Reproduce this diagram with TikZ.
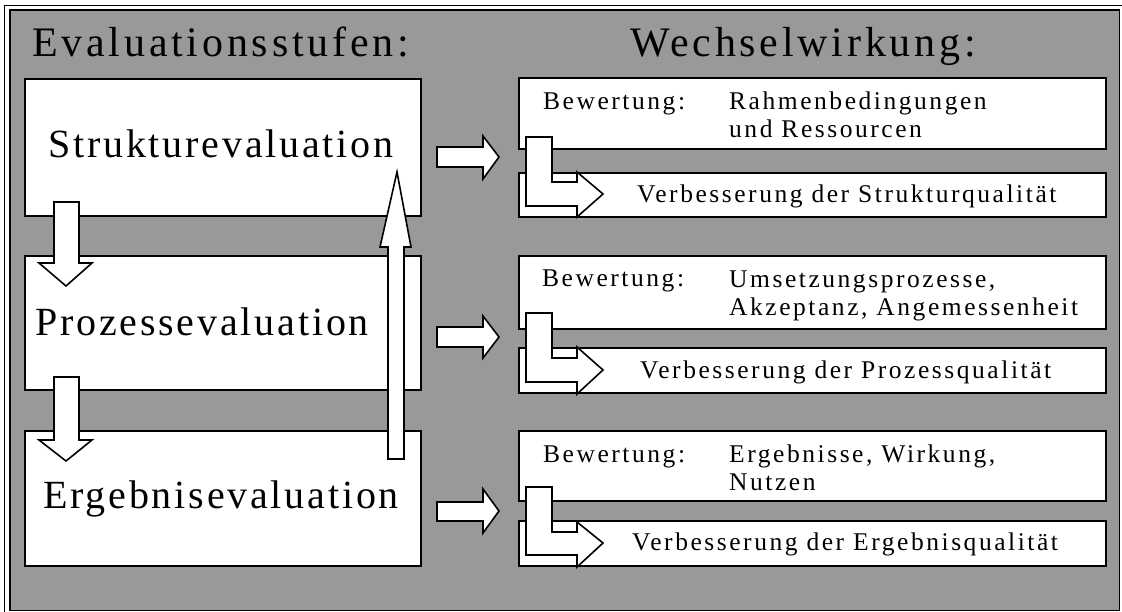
\documentclass[tikz,border=0pt]{standalone}
\usepackage{fontspec}
\setmainfont{Liberation Serif}
\newfontfamily\widefont[LetterSpace=9]{Liberation Serif}
\newfontfamily\boxfont[LetterSpace=10]{Liberation Serif}
\newfontfamily\midfont[LetterSpace=7]{Liberation Serif}
\definecolor{panel}{RGB}{153,153,153}
\begin{document}
\begin{tikzpicture}[x=1pt,y=-1pt,
  stage/.style={draw=black,line width=2pt,fill=white,anchor=north west,inner sep=0pt},
  rbox/.style={draw=black,line width=2pt,fill=white,anchor=north west,inner sep=0pt},
  blockarrow/.style={draw=black,fill=white,line width=1.6pt,line join=miter},
  title/.style={anchor=base west,inner sep=0pt,font=\widefont\fontsize{42}{50}\selectfont},
  stagetext/.style={anchor=base west,inner sep=0pt,font=\midfont\fontsize{40}{46}\selectfont},
  small/.style={anchor=base west,inner sep=0pt,align=left,font=\boxfont\fontsize{25.5}{28}\selectfont}]
\useasboundingbox (0,0) rectangle (1122,612);
% frame
\draw[line width=1pt] (4.5,5.5) rectangle (1135,625);
\draw[line width=1.5pt,fill=panel] (10,10) rectangle (1119.5,610.5);

% headings
\node[title] (h1) at (32,57) {Evaluationsstufen:};
\node[title] (h2) at (630,57) {Wechselwirkung:};

% evaluation stages
\node[stage,minimum width=396pt,minimum height=137pt] (s1) at (24,78) {};
\node[stage,minimum width=396pt,minimum height=134pt] (s2) at (24,255) {};
\node[stage,minimum width=396pt,minimum height=135pt] (s3) at (24,430) {};
\node[stagetext] (t1) at (48,158) {Strukturevaluation};
\node[stagetext] (t2) at (35,335) {Prozessevaluation};
\node[stagetext] (t3) at (43,508) {Ergebnisevaluation};

% arrows between the stages
\draw[blockarrow] (54,202) -- (79,202) -- (79,263) -- (92,263) -- (66,286) -- (39,263) -- (54,263) -- cycle;
\draw[blockarrow] (54,377) -- (79,377) -- (79,440) -- (92,440) -- (66,461) -- (39,440) -- (54,440) -- cycle;
\draw[blockarrow] (388,459) -- (404,459) -- (404,247) -- (411,247) -- (397,172) -- (380,247) -- (388,247) -- cycle;

% assessment and improvement boxes
\node[rbox,minimum width=587pt,minimum height=71pt] (b1) at (518,77) {};
\node[rbox,minimum width=587pt,minimum height=44pt] (v1) at (518,172) {};
\node[rbox,minimum width=587pt,minimum height=73pt] (b2) at (518,255) {};
\node[rbox,minimum width=587pt,minimum height=45pt] (v2) at (518,347) {};
\node[rbox,minimum width=587pt,minimum height=70pt] (b3) at (518,430) {};
\node[rbox,minimum width=587pt,minimum height=45pt] (v3) at (518,520) {};

% two-line texts are placed by the baseline of their last line
\node[small] (bl1) at (543,110) {Bewertung:};
\node[small] (bt1) at (729,138) {Rahmenbedingungen\\und Ressourcen};
\node[small] (vt1) at (637,203) {Verbesserung der Strukturqualität};
\node[small] (bl2) at (542,287) {Bewertung:};
\node[small] (bt2) at (729,316) {Umsetzungsprozesse,\\Akzeptanz, Angemessenheit};
\node[small] (vt2) at (640,378) {Verbesserung der Prozessqualität};
\node[small] (bl3) at (543,462) {Bewertung:};
\node[small] (bt3) at (729,490) {Ergebnisse, Wirkung,\\Nutzen};
\node[small] (vt3) at (632,550) {Verbesserung der Ergebnisqualität};

% arrows from the stages to the assessments
\draw[blockarrow] (437,147) -- (483,147) -- (483,136) -- (499,157) -- (483,179) -- (483,167) -- (437,167) -- cycle;
\draw[blockarrow] (437,327) -- (483,327) -- (483,316) -- (499,337) -- (483,358) -- (483,347) -- (437,347) -- cycle;
\draw[blockarrow] (437,502) -- (483,502) -- (483,489) -- (499,511) -- (483,533) -- (483,521) -- (437,521) -- cycle;

% bent arrows from assessment to improvement
\draw[blockarrow] (526,137) -- (552,137) -- (552,182) -- (577,182) -- (577,172) -- (603,194) -- (577,217) -- (577,206) -- (526,206) -- cycle;
\draw[blockarrow] (526,313) -- (552,313) -- (552,358) -- (577,358) -- (577,347) -- (603,370) -- (577,394) -- (577,382) -- (526,382) -- cycle;
\draw[blockarrow] (526,487) -- (552,487) -- (552,532) -- (577,532) -- (577,522) -- (603,543) -- (577,567) -- (577,555) -- (526,555) -- cycle;
\end{tikzpicture}
\end{document}
